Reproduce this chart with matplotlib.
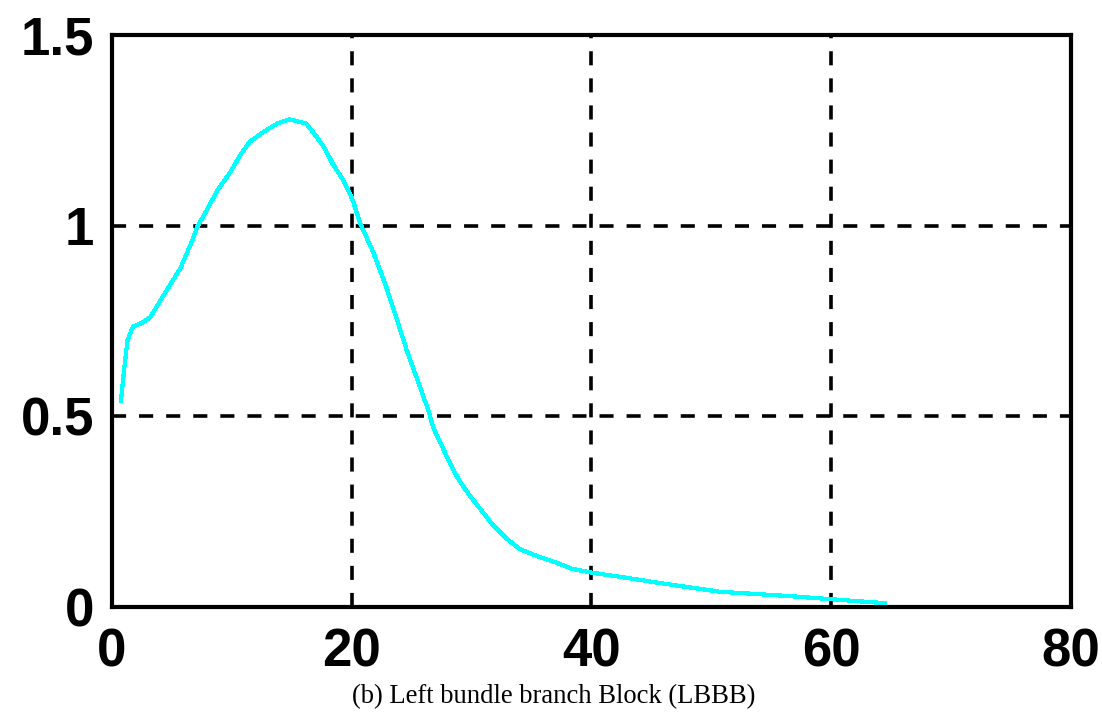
import numpy as np
import matplotlib
matplotlib.use("Agg")
import matplotlib.pyplot as plt
from matplotlib.font_manager import FontProperties

# LBBB response curve
x_vals = [0.75, 1.0, 1.3, 1.75, 2.5, 3.2, 4.2, 5.7, 6.7, 7.1, 7.9, 8.8, 9.8, 10.8,
          11.5, 12.6, 13.8, 14.8, 16.2, 17.1, 17.8, 18.4, 19.3, 20.1, 20.7, 21.8,
          22.9, 23.8, 24.6, 25.5, 26.4, 26.8, 27.4, 27.9, 28.4, 28.9, 29.9, 30.9,
          31.7, 32.9, 34.0, 35.5, 37.0, 38.4, 40.0, 42.4, 46.3, 50.7, 56.3, 61.0, 64.5]
y_vals = [0.54, 0.62, 0.70, 0.735, 0.745, 0.76, 0.812, 0.888, 0.961, 0.996, 1.04,
          1.093, 1.137, 1.19, 1.22, 1.245, 1.268, 1.279, 1.268, 1.232, 1.20, 1.163,
          1.119, 1.066, 1.006, 0.93, 0.838, 0.751, 0.672, 0.594, 0.515, 0.47,
          0.43, 0.397, 0.365, 0.335, 0.29, 0.25, 0.218, 0.18, 0.152, 0.133, 0.117,
          0.10, 0.09, 0.079, 0.06, 0.04, 0.029, 0.018, 0.01]

x_ticks = [0, 20, 40, 60, 80]
x_labels = ["0", "20", "40", "60", "80"]
y_ticks = [0, 0.5, 1, 1.5]
y_labels = ["0", "0.5", "1", "1.5"]
caption = "(b) Left bundle branch Block (LBBB)"

fig = plt.figure(figsize=(11.02, 7.12), dpi=100)
ax = fig.add_axes([0.1016, 0.1475, 0.8703, 0.8033])

ax.plot(x_vals, y_vals, color="#00FFFF", linewidth=2.3, antialiased=False,
        solid_joinstyle="miter", zorder=3)

ax.set_xlim(0, 80)
ax.set_ylim(0, 1.5)
ax.set_xticks(x_ticks)
ax.set_yticks(y_ticks)
ax.set_xticklabels(x_labels)
ax.set_yticklabels(y_labels)

tick_font = FontProperties(family="Liberation Sans", weight="bold", size=38)
for lbl in ax.get_xticklabels() + ax.get_yticklabels():
    lbl.set_fontproperties(tick_font)
ax.tick_params(axis="both", length=0)
ax.tick_params(axis="x", pad=15)
ax.tick_params(axis="y", pad=13)

ax.grid(True, color="black", linewidth=2.6, linestyle=(0, (3.9, 3.6)))
for s in ax.spines.values():
    s.set_linewidth(3)
    s.set_color("black")

fig.text(0.502, 0.021, caption, ha="center", va="center",
         family="Liberation Serif", fontsize=19.2)

fig.savefig("out.png", dpi=100)
